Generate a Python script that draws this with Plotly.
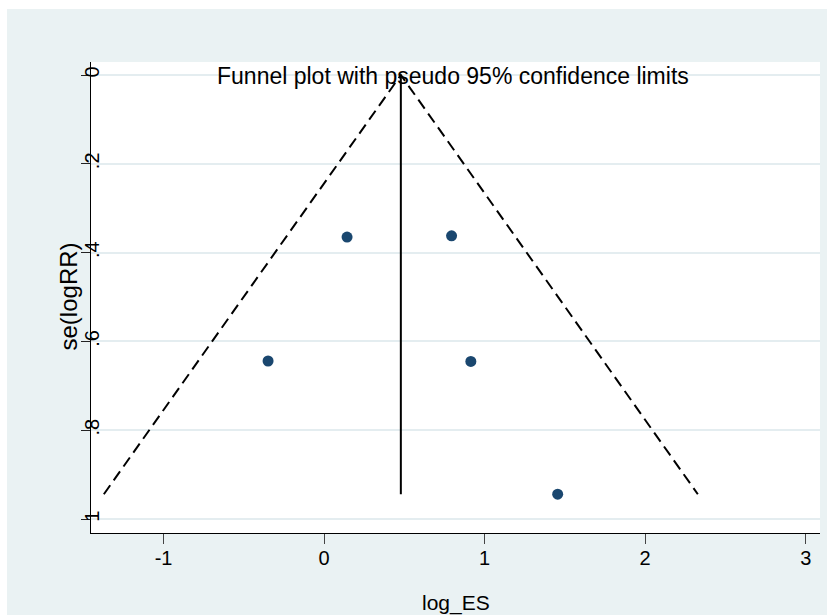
import plotly.graph_objects as go

# ---- data ----
log_es = [0.143, 0.794, -0.349, 0.914, 1.455]
se_logrr = [0.365, 0.362, 0.644, 0.645, 0.944]
funnel_x = [-1.372, 0.478, 2.328]
funnel_y = [0.944, 0.0, 0.944]
center_x = [0.478, 0.478]
center_y = [0.0, 0.944]
x_ticks = [-1, 0, 1, 2, 3]
x_ticktext = ["-1", "0", "1", "2", "3"]
y_ticks = [0, 0.2, 0.4, 0.6, 0.8, 1.0]
y_ticktext = ["0", ".2", ".4", ".6", ".8", "1"]

FONT = "Liberation Sans, Arial, sans-serif"
BG = "#EAF2F3"
GRID = "#E4EDF0"

fig = go.Figure()
fig.add_trace(go.Scatter(x=funnel_x, y=funnel_y, mode="lines",
                         line=dict(color="black", width=2, dash="11px,6px"),
                         hoverinfo="skip", showlegend=False))
fig.add_trace(go.Scatter(x=center_x, y=center_y, mode="lines",
                         line=dict(color="black", width=2),
                         hoverinfo="skip", showlegend=False))
fig.add_trace(go.Scatter(x=log_es, y=se_logrr, mode="markers",
                         marker=dict(color="#1A476F", size=11),
                         showlegend=False))

fig.update_layout(
    width=827, height=615, autosize=False,
    margin=dict(l=91, r=7, t=62, b=82, pad=0),
    paper_bgcolor="white", plot_bgcolor="white",
    font=dict(family=FONT, color="black", size=20),
    showlegend=False,
    shapes=[
        dict(type="rect", xref="paper", yref="paper", x0=-0.1152, x1=1.02,
             y0=-0.2, y1=1.1125, fillcolor=BG, line=dict(width=0), layer="below"),
        dict(type="rect", xref="paper", yref="paper", x0=0, x1=1, y0=0, y1=1,
             fillcolor="white", line=dict(width=0), layer="below"),
    ],
    annotations=[
        dict(text="Funnel plot with pseudo 95% confidence limits", xref="paper", yref="paper",
             x=0.4966, y=0.970, xanchor="center", yanchor="middle", showarrow=False,
             font=dict(size=23, family=FONT, color="black")),
        dict(text="log_ES", xref="paper", yref="paper", x=0.5, y=-0.149,
             xanchor="center", yanchor="middle", showarrow=False,
             font=dict(size=21, family=FONT, color="black")),
        dict(text="se(logRR)", xref="paper", yref="paper", x=-0.031, y=0.503,
             xanchor="center", yanchor="middle", showarrow=False, textangle=-90,
             font=dict(size=24, family=FONT, color="black")),
    ],
)
fig.update_xaxes(range=[-1.452, 3.089], tickvals=x_ticks, ticktext=x_ticktext,
                 showline=True, linecolor="black", linewidth=1,
                 ticks="outside", ticklen=10, tickcolor="#444", tickwidth=1,
                 tickfont=dict(size=20), ticklabelstandoff=-3,
                 showgrid=False, zeroline=False)
fig.update_yaxes(range=[1.0313, -0.0293], tickvals=y_ticks, ticktext=y_ticktext,
                 showline=True, linecolor="black", linewidth=1,
                 ticks="outside", ticklen=9, tickcolor="#222", tickwidth=1,
                 tickangle=-90, tickfont=dict(size=20), ticklabelstandoff=-26,
                 showgrid=True, gridcolor=GRID, gridwidth=1.5, zeroline=False)

fig.write_html("out.html")
